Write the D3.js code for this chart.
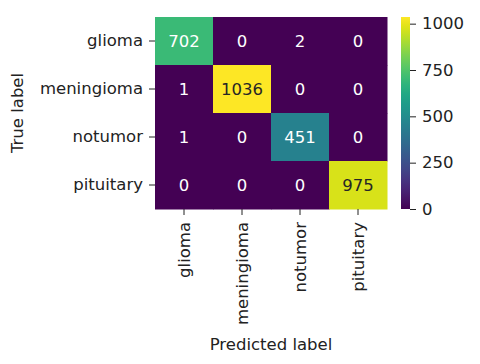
<!DOCTYPE html>
<html><head><meta charset="utf-8">
<script src="https://cdn.jsdelivr.net/npm/d3@7"></script>
<style>body{margin:0;background:#fff}svg{display:block}text{font-family:"DejaVu Sans",sans-serif}</style>
</head><body>
<svg id="c" width="480" height="364"></svg>
<script>
const classes = ["glioma","meningioma","notumor","pituitary"];
const matrix = [
  [702, 0, 2, 0],
  [1, 1036, 0, 0],
  [1, 0, 451, 0],
  [0, 0, 0, 975]
];
const cbTicks = [0, 250, 500, 750, 1000];

const svg = d3.select("#c");
const L = 155, R = 387, T = 17, B = 209;
const fs = 16.5;
const x = d3.scaleBand().domain(classes).range([L, R]);
const y = d3.scaleBand().domain(classes).range([T, B]);
const vmax = d3.max(matrix.flat());
const color = d3.scaleSequential(d3.interpolateViridis).domain([0, vmax]);

const cells = [];
matrix.forEach((row, i) => row.forEach((v, j) => cells.push({r: classes[i], c: classes[j], v})));

svg.selectAll("rect.cell").data(cells).join("rect")
  .attr("x", d => x(d.c)).attr("y", d => y(d.r))
  .attr("width", x.bandwidth() + 0.5).attr("height", y.bandwidth() + 0.5)
  .attr("fill", d => color(d.v));

function lum(c) {
  const rgb = d3.rgb(c);
  const f = v => { v /= 255; return v <= 0.03928 ? v / 12.92 : Math.pow((v + 0.055) / 1.055, 2.4); };
  return 0.2126 * f(rgb.r) + 0.7152 * f(rgb.g) + 0.0722 * f(rgb.b);
}
svg.selectAll("text.ann").data(cells).join("text")
  .attr("x", d => x(d.c) + x.bandwidth() / 2)
  .attr("y", d => y(d.r) + y.bandwidth() / 2)
  .attr("dy", "0.36em").attr("text-anchor", "middle")
  .attr("font-size", fs)
  .attr("fill", d => lum(color(d.v)) > 0.408 ? "#262626" : "#ffffff")
  .text(d => d.v);

// axes
const ax = svg.append("g").attr("transform", `translate(0,${B})`)
  .call(d3.axisBottom(x).tickSize(6).tickPadding(6));
ax.select(".domain").remove();
ax.selectAll("line").attr("stroke", "#222");
ax.selectAll("text").attr("font-size", fs).attr("fill", "#222")
  .attr("transform", "rotate(-90)")
  .attr("text-anchor", "end")
  .attr("x", -13).attr("y", 0).attr("dy", "0.35em");

const ay = svg.append("g").attr("transform", `translate(${L},0)`)
  .call(d3.axisLeft(y).tickSize(6).tickPadding(6));
ay.select(".domain").remove();
ay.selectAll("line").attr("stroke", "#222");
ay.selectAll("text").attr("font-size", fs).attr("fill", "#222");

svg.append("text").attr("x", (L + R) / 2).attr("y", 350)
  .attr("text-anchor", "middle").attr("font-size", fs).attr("fill", "#222")
  .text("Predicted label");
svg.append("text").attr("transform", `translate(23,${(T + B) / 2}) rotate(-90)`)
  .attr("text-anchor", "middle").attr("font-size", fs).attr("fill", "#222")
  .text("True label");

// colorbar
const cbX = 401, cbW = 9;
const cy = d3.scaleLinear().domain([0, vmax]).range([B, T]);
const defs = svg.append("defs");
const grad = defs.append("linearGradient").attr("id", "g").attr("x1", 0).attr("x2", 0).attr("y1", 1).attr("y2", 0);
d3.range(0, 1.0001, 0.05).forEach(t => grad.append("stop").attr("offset", t).attr("stop-color", d3.interpolateViridis(t)));
svg.append("rect").attr("x", cbX).attr("y", T).attr("width", cbW).attr("height", B - T).attr("fill", "url(#g)");
const ac = svg.append("g").attr("transform", `translate(${cbX + cbW},0)`)
  .call(d3.axisRight(cy).tickValues(cbTicks).tickFormat(d3.format("d")).tickSize(6).tickPadding(6));
ac.select(".domain").remove();
ac.selectAll("line").attr("stroke", "#222");
ac.selectAll("text").attr("font-size", fs).attr("fill", "#222");
</script>
</body></html>
